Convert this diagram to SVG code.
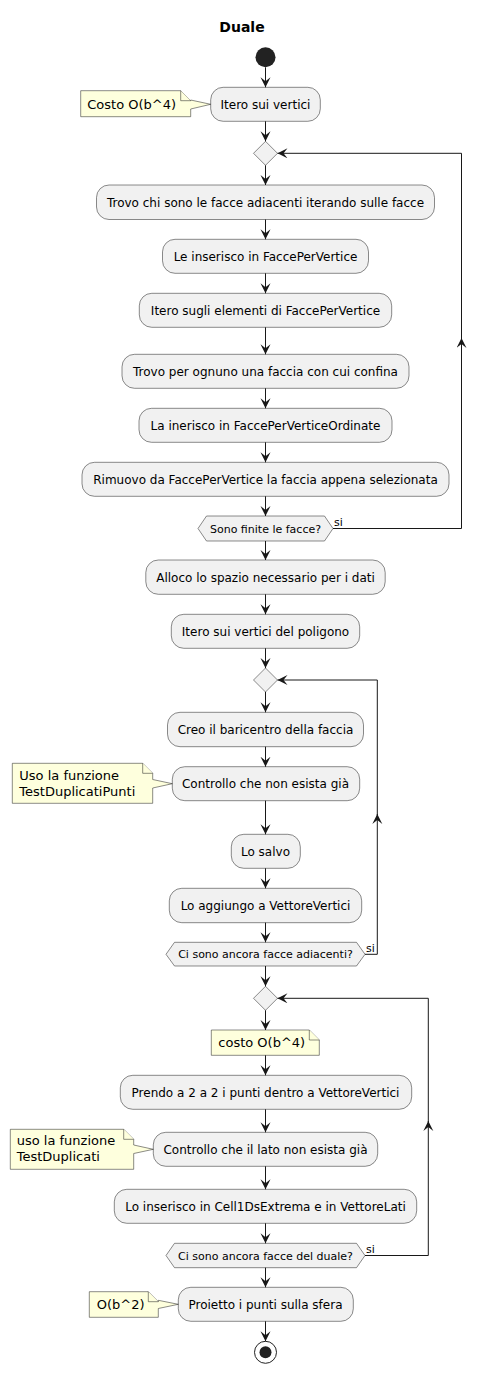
<svg xmlns="http://www.w3.org/2000/svg" width="486" height="1373" viewBox="0 0 486 1373">
<style>
text{font-family:"DejaVu Sans",sans-serif;fill:#000}
.t{font-size:12px;text-anchor:middle}
.h{font-size:11px;text-anchor:middle}
.n{font-size:13px}
.s{font-size:11px}
.title{font-size:14px;font-weight:bold;text-anchor:middle}
.box{fill:#F1F1F1;stroke:#181818;stroke-width:0.5}
.note{fill:#FEFFDD;stroke:#181818;stroke-width:0.5}
.c{fill:none;stroke:#181818;stroke-width:1;marker-end:url(#ah)}
</style>
<defs>
<marker id="ah" markerUnits="userSpaceOnUse" markerWidth="11" markerHeight="11" refX="10" refY="5" orient="auto" viewBox="0 0 11 11">
<path d="M0,0 L10,5 L0,10 L4,5 Z" fill="#181818"/>
</marker>
</defs>
<rect width="486" height="1373" fill="#FFFFFF"/>
<text class="title" x="242" y="32">Duale</text>

<g id="start"><circle cx="265.5" cy="57.3" r="10" fill="#222222"/></g>

<g id="n_itero"><rect class="box" x="210.7" y="87.3" width="109.6" height="34" rx="12.5"/><text class="t" x="265.5" y="108.7">Itero sui vertici</text></g>
<g id="note1"><path class="note" d="M80.7,90.7 L180.7,90.7 L190.7,100.7 L190.7,100 L210.7,104.3 L190.7,109 L190.7,116.7 L80.7,116.7 Z"/><path class="note" d="M180.7,90.7 L180.7,100.7 L190.7,100.7" fill="none"/><text class="n" x="87.3" y="109">Costo O(b^4)</text></g>
<g id="d1"><polygon class="box" points="265.5,141.3 277.5,153.3 265.5,165.3 253.5,153.3"/></g>
<g id="n_trovo"><rect class="box" x="96.5" y="185" width="338" height="34.5" rx="12.5"/><text class="t" x="265.5" y="206.5">Trovo chi sono le facce adiacenti iterando sulle facce</text></g>
<g id="n_inser"><rect class="box" x="162.5" y="239.3" width="206" height="34" rx="12.5"/><text class="t" x="265.5" y="260.7">Le inserisco in FaccePerVertice</text></g>
<g id="n_itero2"><rect class="box" x="139.3" y="293.3" width="252.4" height="34" rx="12.5"/><text class="t" x="265.5" y="314.7">Itero sugli elementi di FaccePerVertice</text></g>
<g id="n_trovo2"><rect class="box" x="122" y="354.3" width="287" height="34" rx="12.5"/><text class="t" x="265.5" y="375.7">Trovo per ognuno una faccia con cui confina</text></g>
<g id="n_ineri"><rect class="box" x="139" y="408.3" width="253" height="34" rx="12.5"/><text class="t" x="265.5" y="429.7">La inerisco in FaccePerVerticeOrdinate</text></g>
<g id="n_rimuovo"><rect class="box" x="82" y="462.3" width="367" height="34" rx="12.5"/><text class="t" x="265.5" y="483.7">Rimuovo da FaccePerVertice la faccia appena selezionata</text></g>
<g id="h1"><polygon class="box" points="206.5,516 324.5,516 333,528.5 324.5,541 206.5,541 198,528.5"/><text class="h" x="265.5" y="532.5">Sono finite le facce?</text></g>

<g id="n_alloco"><rect class="box" x="145.8" y="560" width="239.4" height="34.3" rx="12.5"/><text class="t" x="265.5" y="581.5">Alloco lo spazio necessario per i dati</text></g>
<g id="n_itero3"><rect class="box" x="171.3" y="614.3" width="188.4" height="34" rx="12.5"/><text class="t" x="265.5" y="635.7">Itero sui vertici del poligono</text></g>
<g id="d2"><polygon class="box" points="265.5,668 277.5,680 265.5,692 253.5,680"/></g>
<g id="n_creo"><rect class="box" x="167.5" y="712.3" width="196" height="34.4" rx="12.5"/><text class="t" x="265.5" y="733.8">Creo il baricentro della faccia</text></g>
<g id="n_contr1"><rect class="box" x="172.3" y="766.7" width="187.4" height="34" rx="12.5"/><text class="t" x="265.5" y="788.1">Controllo che non esista già</text></g>
<g id="note2"><path class="note" d="M12.3,763.3 L142.7,763.3 L152.7,773.3 L152.7,779.5 L172.3,783.7 L152.7,788 L152.7,803.3 L12.3,803.3 Z"/><path class="note" d="M142.7,763.3 L142.7,773.3 L152.7,773.3" fill="none"/><text class="n" x="19.3" y="779.5">Uso la funzione</text><text class="n" x="19.3" y="795.5">TestDuplicatiPunti</text></g>
<g id="n_salvo"><rect class="box" x="231.3" y="834.3" width="69" height="34" rx="12.5"/><text class="t" x="265.5" y="855.7">Lo salvo</text></g>
<g id="n_aggiungo"><rect class="box" x="169.3" y="888.3" width="192.4" height="34.4" rx="12.5"/><text class="t" x="265.5" y="909.8">Lo aggiungo a VettoreVertici</text></g>
<g id="h2"><polygon class="box" points="174.5,942.3 356.5,942.3 365,954.3 356.5,966 174.5,966 166,954.3"/><text class="h" x="265.5" y="958.3">Ci sono ancora facce adiacenti?</text></g>

<g id="d3"><polygon class="box" points="265.5,986.3 277.5,998.3 265.5,1010.3 253.5,998.3"/></g>
<g id="note3"><path class="note" d="M211.3,1030 L309.3,1030 L319.3,1040 L319.3,1055.3 L211.3,1055.3 Z"/><path class="note" d="M309.3,1030 L309.3,1040 L319.3,1040" fill="none"/><text class="n" x="218.3" y="1047">costo O(b^4)</text></g>
<g id="n_prendo"><rect class="box" x="120.3" y="1075.3" width="291.4" height="34" rx="12.5"/><text class="t" x="265.5" y="1096.7">Prendo a 2 a 2 i punti dentro a VettoreVertici</text></g>
<g id="n_contr2"><rect class="box" x="153.3" y="1132.3" width="224.4" height="34" rx="12.5"/><text class="t" x="265.5" y="1153.7">Controllo che il lato non esista già</text></g>
<g id="note4"><path class="note" d="M10.3,1129.3 L123.7,1129.3 L133.7,1139.3 L133.7,1145 L153.3,1149.3 L133.7,1153.5 L133.7,1169.3 L10.3,1169.3 Z"/><path class="note" d="M123.7,1129.3 L123.7,1139.3 L133.7,1139.3" fill="none"/><text class="n" x="16.7" y="1145.3">uso la funzione</text><text class="n" x="16.7" y="1161">TestDuplicati</text></g>
<g id="n_inser2"><rect class="box" x="114.3" y="1189.3" width="302.4" height="34" rx="12.5"/><text class="t" x="265.5" y="1210.7">Lo inserisco in Cell1DsExtrema e in VettoreLati</text></g>
<g id="h3"><polygon class="box" points="174.5,1243.3 356.5,1243.3 365,1255.5 356.5,1267.7 174.5,1267.7 166,1255.5"/><text class="h" x="265.5" y="1259.5">Ci sono ancora facce del duale?</text></g>
<g id="n_proietto"><rect class="box" x="178.3" y="1287.3" width="175" height="34" rx="12.5"/><text class="t" x="265.5" y="1308.7">Proietto i punti sulla sfera</text></g>
<g id="note5"><path class="note" d="M89.3,1291.7 L148.3,1291.7 L158.3,1301.7 L158.3,1300.3 L178.3,1304.3 L158.3,1308.5 L158.3,1317.3 L89.3,1317.3 Z"/><path class="note" d="M148.3,1291.7 L148.3,1301.7 L158.3,1301.7" fill="none"/><text class="n" x="96.7" y="1308.5">O(b^2)</text></g>
<g id="end"><circle cx="265.5" cy="1352.3" r="11" fill="none" stroke="#222222" stroke-width="1"/><circle cx="265.5" cy="1352.3" r="6" fill="#222222"/></g>

<g id="connectors">
<path class="c" d="M265.5,67.3 V87.3"/>
<path class="c" d="M265.5,121.3 V141.3"/>
<path class="c" d="M265.5,165.3 V185"/>
<path class="c" d="M265.5,219.5 V239.3"/>
<path class="c" d="M265.5,273.3 V293.3"/>
<path class="c" d="M265.5,327.3 V354.3"/>
<path class="c" d="M265.5,388.3 V408.3"/>
<path class="c" d="M265.5,442.3 V462.3"/>
<path class="c" d="M265.5,496.3 V516"/>
<path class="c" d="M265.5,541 V560"/>
<path class="c" d="M265.5,594.3 V614.3"/>
<path class="c" d="M265.5,648.3 V668"/>
<path class="c" d="M265.5,692 V712.3"/>
<path class="c" d="M265.5,746.7 V766.7"/>
<path class="c" d="M265.5,800.7 V834.3"/>
<path class="c" d="M265.5,868.3 V888.3"/>
<path class="c" d="M265.5,922.7 V942.3"/>
<path class="c" d="M265.5,966 V986.3"/>
<path class="c" d="M265.5,1010.3 V1030"/>
<path class="c" d="M265.5,1055.3 V1075.3"/>
<path class="c" d="M265.5,1109.3 V1132.3"/>
<path class="c" d="M265.5,1166.3 V1189.3"/>
<path class="c" d="M265.5,1223.3 V1243.3"/>
<path class="c" d="M265.5,1267.7 V1287.3"/>
<path class="c" d="M265.5,1321.3 V1341.3"/>
<path class="c" d="M333,528.5 H461.5 V338"/>
<path class="c" d="M461.5,339 V153.3 H277.5"/>
<path class="c" d="M365,954.3 H377.3 V814"/>
<path class="c" d="M377.3,815 V680 H277.5"/>
<path class="c" d="M365,1255.5 H428.3 V1121"/>
<path class="c" d="M428.3,1122 V998.3 H277.5"/>
<text class="s" x="334" y="526">si</text>
<text class="s" x="366" y="952">si</text>
<text class="s" x="366" y="1253">si</text>
</g>
</svg>
